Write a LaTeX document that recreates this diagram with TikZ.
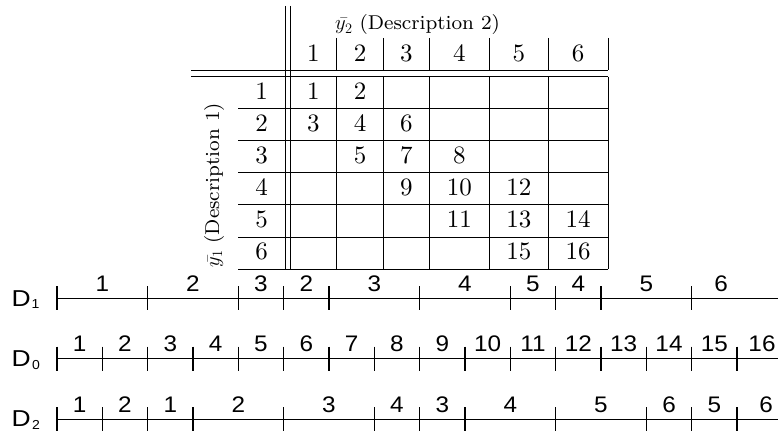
\documentclass[tikz,border=0pt]{standalone}
\usepackage{fontspec}
\newfontfamily\lmten{lmroman10-regular}[Extension=.otf]
\newfontfamily\lmeight{lmroman8-regular}[Extension=.otf]
\newfontfamily\arialf[FakeStretch=1.08]{Liberation Sans}
\newfontfamily\arialD[FakeStretch=1.15]{Liberation Sans}
\begin{document}
\begin{tikzpicture}[x=1pt,y=-1pt,
  tline/.style={line width=0.9pt},
  nline/.style={line width=1.4pt},
  cell/.style={font=\lmten\fontsize{25}{28}\selectfont, inner sep=0pt, anchor=center},
  desc/.style={font=\lmeight\fontsize{20}{24}\selectfont, inner sep=0pt},
  seg/.style={font=\arialf\fontsize{22.5}{26}\selectfont, inner sep=0pt, anchor=base},
  dlab/.style={font=\arialD\fontsize{23}{26}\selectfont, inner sep=0pt, anchor=base west},
  dsub/.style={font=\arialf\fontsize{13}{15}\selectfont, inner sep=0pt, anchor=base}]
\useasboundingbox (0,0) rectangle (778,436);

% ---------------- table ----------------
\coordinate (vA1) at (285,6);   \coordinate (vA2) at (285,269);
\coordinate (vB1) at (290,6);   \coordinate (vB2) at (290,269);
\draw[tline] (vA1) -- (vA2);
\draw[tline] (vB1) -- (vB2);
\coordinate (hA1) at (191,70);   \coordinate (hA2) at (608,70);
\coordinate (hB1) at (191,76.7); \coordinate (hB2) at (608,76.7);
\draw[tline] (hA1) -- (hA2);
\draw[tline] (hB1) -- (hB2);
\foreach \cx in {336.7,383.3,429.3,489.3,548.3,608}{
  \draw[tline] (\cx,38) -- (\cx,70);
  \draw[tline] (\cx,76.7) -- (\cx,269);
}
\foreach \k in {1,...,6}{
  \pgfmathsetmacro{\ry}{76.7+32.05*\k}
  \draw[tline] (238.3,\ry) -- (608,\ry);
}
\node[desc] (ttl2) at (417.5,25) {$\bar{y_2}$ (Description 2)};
\node[desc, rotate=90] (ttl1) at (214,185.5) {$\bar{y_1}$ (Description 1)};
% header digits
\foreach \cx/\t [count=\i] in {313.3/1,360/2,406.3/3,459.3/4,518.8/5,578.2/6}{
  \node[cell] (h\i) at (\cx,53) {\t};
}
% row labels
\foreach \k in {1,...,6}{
  \pgfmathsetmacro{\ry}{76.7+32.05*(\k-0.5)-1.5}
  \node[cell] (r\k) at (261.7,\ry) {\k};
}
% body entries: row/col/text
\foreach \r/\cx/\t [count=\i] in {
  1/313.3/1, 1/360/2,
  2/313.3/3, 2/360/4, 2/406.3/6,
  3/360/5, 3/406.3/7, 3/459.3/8,
  4/406.3/9, 4/459.3/10, 4/518.8/12,
  5/459.3/11, 5/518.8/13, 5/578.2/14,
  6/518.8/15, 6/578.2/16}{
  \pgfmathsetmacro{\ry}{76.7+32.05*(\r-0.5)-1.5}
  \node[cell] (e\i) at (\cx,\ry) {\t};
}

% ---------------- number lines ----------------
% D labels
\node[dlab] (dl1) at (11.5,306.8) {D};  \node[dsub] (ds1) at (35.5,308.5) {1};
\node[dlab] (dl0) at (11.5,366.5) {D};  \node[dsub] (ds0) at (36,369) {0};
\node[dlab] (dl2) at (11.5,426.5) {D};  \node[dsub] (ds2) at (36,429) {2};

% main lines
\coordinate (L1a) at (57,298.3); \coordinate (L1b) at (778,298.3);
\coordinate (L0a) at (57,358.7); \coordinate (L0b) at (778,358.7);
\coordinate (L2a) at (57,419.3); \coordinate (L2b) at (778,419.3);
\draw[nline] (L1a) -- (L1b);
\draw[nline] (L0a) -- (L0b);
\draw[nline] (L2a) -- (L2b);

% D1 ticks
\foreach \k in {0,2,4,5,6,8,10,11,12,14}{
  \pgfmathsetmacro{\tx}{57+45.333*\k}
  \draw[nline] (\tx,286.3) -- (\tx,310.3);
}
% D0 ticks
\foreach \k in {0,...,15}{
  \pgfmathsetmacro{\tx}{57+45.333*\k}
  \draw[nline] (\tx,346.7) -- (\tx,370.7);
}
% D2 ticks
\foreach \k in {0,1,2,3,5,7,8,9,11,13,14,15}{
  \pgfmathsetmacro{\tx}{57+45.333*\k}
  \draw[nline] (\tx,407.3) -- (\tx,431.3);
}

% D1 labels (segment midpoints in tick units)
\foreach \m/\t in {1/1,3/2,4.5/3,5.5/2,7/3,9/4,10.5/5,11.5/4,13/5,14.65/6}{
  \pgfmathsetmacro{\tx}{57+45.333*\m}
  \node[seg] at (\tx,291.5) {\t};
}
% D0 labels
\foreach \k in {1,...,15}{
  \pgfmathsetmacro{\tx}{57+45.333*(\k-0.5)}
  \node[seg] at (\tx,351.7) {\k};
}
\node[seg] at (762,351.7) {16};
% D2 labels
\foreach \m/\t in {0.5/1,1.5/2,2.5/1,4/2,6/3,7.5/4,8.5/3,10/4,12/5,13.5/6,14.5/5}{
  \pgfmathsetmacro{\tx}{57+45.333*\m}
  \node[seg] at (\tx,412) {\t};
}
\node[seg] at (766,412) {6};
\end{tikzpicture}
\end{document}
